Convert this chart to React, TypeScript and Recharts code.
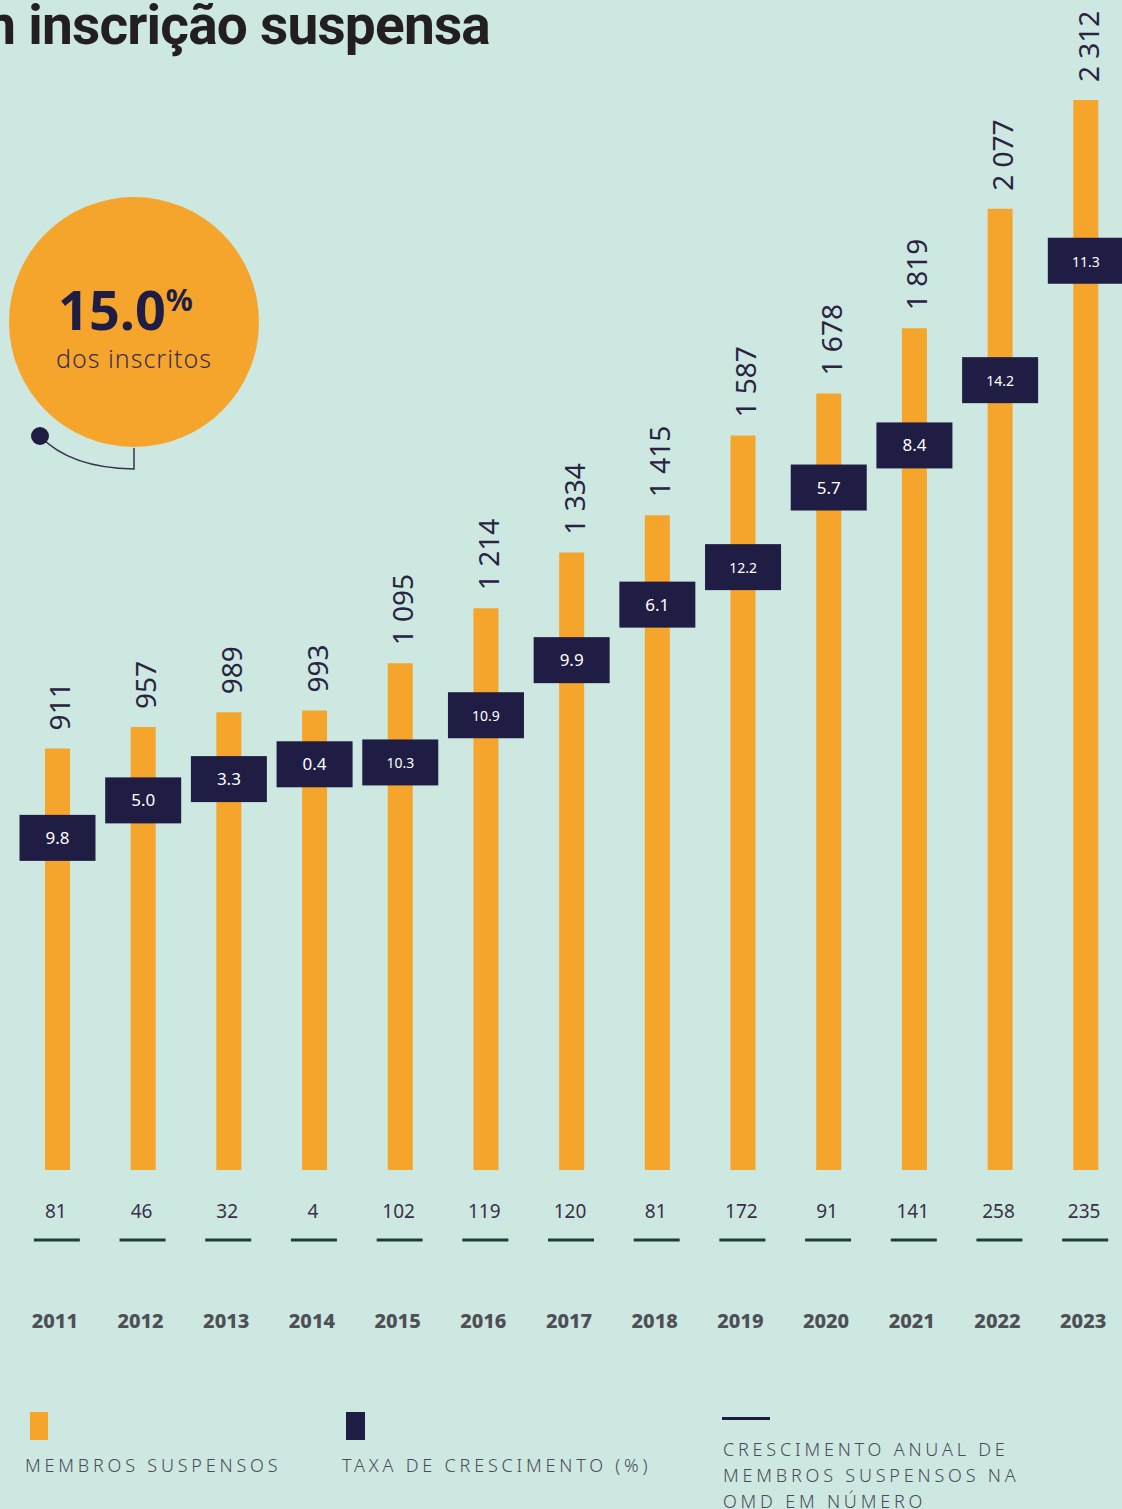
import React from "react";
import { BarChart, Bar, XAxis, YAxis, LabelList } from "recharts";

// dados
const anos = ["2011", "2012", "2013", "2014", "2015", "2016", "2017", "2018", "2019", "2020", "2021", "2022", "2023"];
const membrosSuspensos = [911, 957, 989, 993, 1095, 1214, 1334, 1415, 1587, 1678, 1819, 2077, 2312];
const taxaCrescimento = ["9.8", "5.0", "3.3", "0.4", "10.3", "10.9", "9.9", "6.1", "12.2", "5.7", "8.4", "14.2", "11.3"];
const crescimentoAnual = [81, 46, 32, 4, 102, 119, 120, 81, 172, 91, 141, 258, 235];

const BG = "#cde8e1";
const ORANGE = "#f6a52c";
const NAVY = "#201d44";
const FONT = "'Noto Sans', sans-serif";

const data = anos.map((ano, i) => ({
  ano,
  membros: membrosSuspensos[i],
  taxa: taxaCrescimento[i],
  anual: crescimentoAnual[i],
}));

const fmt = (v: number) => {
  const s = String(v);
  return s.length > 3 ? s.slice(0, s.length - 3) + " " + s.slice(-3) : s;
};

// numero rodado por cima da barra
const ValueLabel = (props: any) => {
  const { x, y, width, value } = props;
  const cx = x + width / 2;
  const tx = cx + 13;
  const ty = y - 18;
  return (
    <text
      x={tx}
      y={ty}
      transform={`rotate(-90, ${tx}, ${ty})`}
      fill="#2a2342"
      fontFamily={FONT}
      fontSize={28}
      textAnchor="start"
    >
      {fmt(value)}
    </text>
  );
};

// caixa da taxa de crescimento (posicionada no valor do ano anterior)
const TaxaBox = (props: any) => {
  const { x, y, width, height, index } = props;
  const d = data[index];
  const cx = x + width / 2;
  const yPrev = y + (d.anual * height) / d.membros;
  const cy = yPrev + 52;
  const small = d.taxa.length > 3;
  return (
    <g>
      <rect x={cx - 38} y={cy - 23} width={76} height={46} fill={NAVY} />
      <text
        x={cx}
        y={cy + 6}
        textAnchor="middle"
        fill="#ffffff"
        fontFamily={FONT}
        fontSize={small ? 14 : 17}
      >
        {d.taxa}
      </text>
    </g>
  );
};

const AnoTick = (props: any) => {
  const { x, y, payload } = props;
  const i = anos.indexOf(payload.value);
  return (
    <g>
      <text x={x - 2} y={y + 40} textAnchor="middle" fill="#3a3049" fontFamily={FONT} fontSize={19}>
        {crescimentoAnual[i]}
      </text>
      <line x1={x - 24} x2={x + 22} y1={y + 62} y2={y + 62} stroke="#1f3d39" strokeWidth={3} />
      <text
        x={x - 3}
        y={y + 150}
        textAnchor="middle"
        fill="#4f4f55"
        fontFamily={FONT}
        fontWeight={800}
        fontSize={20}
      >
        {payload.value}
      </text>
    </g>
  );
};

const legendText: React.CSSProperties = {
  position: "absolute",
  fontFamily: FONT,
  fontSize: 18,
  letterSpacing: 3.8,
  color: "#4c4a58",
  fontWeight: 300,
  lineHeight: "26px",
  whiteSpace: "nowrap",
};

export default function App() {
  return (
    <div
      style={{
        position: "absolute",
        left: 0,
        top: 0,
        width: 1122,
        height: 1509,
        overflow: "hidden",
        background: BG,
      }}
    >
      <BarChart
        width={1130}
        height={1509}
        data={data}
        margin={{ top: 100, right: 1, left: 15, bottom: 0 }}
        barSize={25}
      >
        <XAxis dataKey="ano" axisLine={false} tickLine={false} interval={0} tick={<AnoTick />} height={339} />
        <YAxis hide domain={[0, 2312]} />
        <Bar dataKey="membros" fill={ORANGE} isAnimationActive={false}>
          <LabelList dataKey="membros" content={<ValueLabel />} />
          <LabelList dataKey="taxa" content={<TaxaBox />} />
        </Bar>
      </BarChart>

      {/* titulo */}
      <div
        style={{
          position: "absolute",
          right: 1122 - 490,
          top: -7,
          whiteSpace: "nowrap",
          fontFamily: "Roboto, sans-serif",
          fontWeight: 700,
          fontSize: 55,
          color: "#231f20",
          letterSpacing: -0.8,
        }}
      >
        com inscrição suspensa
      </div>

      {/* circulo */}
      <svg style={{ position: "absolute", left: 0, top: 0 }} width={300} height={500}>
        <circle cx={134} cy={322} r={125} fill={ORANGE} />
        <path d="M40,436 Q70,468 134,469 L134,448" fill="none" stroke="#3b3152" strokeWidth={1.5} />
        <circle cx={40} cy={436} r={9} fill={NAVY} />
        <text x={58} y={330} fill={NAVY} fontFamily={FONT} fontWeight={700} fontSize={54} letterSpacing={0}>
          15.0
          <tspan fontSize={30} dy={-19}>%</tspan>
        </text>
        <text
          x={134}
          y={368}
          textAnchor="middle"
          fill="#3a2f4e"
          fontFamily={FONT}
          fontWeight={300}
          fontSize={25}
          letterSpacing={1}
        >
          dos inscritos
        </text>
      </svg>

      {/* legenda */}
      <div style={{ position: "absolute", left: 30, top: 1412, width: 18, height: 28, background: ORANGE }} />
      <div style={{ ...legendText, left: 25, top: 1452 }}>MEMBROS SUSPENSOS</div>
      <div style={{ position: "absolute", left: 346, top: 1412, width: 19, height: 28, background: NAVY }} />
      <div style={{ ...legendText, left: 342, top: 1452 }}>TAXA DE CRESCIMENTO (%)</div>
      <div style={{ position: "absolute", left: 722, top: 1417, width: 48, height: 3, background: NAVY }} />
      <div style={{ ...legendText, left: 723, top: 1436 }}>
        CRESCIMENTO ANUAL DE
        <br />
        MEMBROS SUSPENSOS NA
        <br />
        OMD EM NÚMERO
      </div>
    </div>
  );
}
